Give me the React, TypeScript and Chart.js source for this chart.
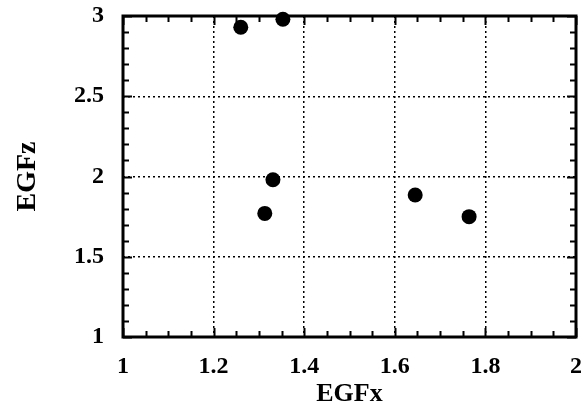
import React, { useEffect, useRef } from "react";
import { Chart, registerables } from "chart.js";

Chart.register(...registerables);

const xValues = [1.26, 1.353, 1.331, 1.313, 1.645, 1.764];
const yValues = [2.93, 2.98, 1.98, 1.77, 1.885, 1.75];
const xLabels = ["1", "1.2", "1.4", "1.6", "1.8", "2"];
const yLabels = ["1", "1.5", "2", "2.5", "3"];
const xTitle = "EGFx";
const yTitle = "EGFz";

const FONT = "'Liberation Serif', 'Times New Roman', serif";

const frameTicks = {
  id: "frameTicks",
  afterDraw(chart: any) {
    const { ctx, chartArea: a, scales } = chart;
    const xs = scales.x;
    const ys = scales.y;
    ctx.save();
    ctx.strokeStyle = "#000";
    ctx.lineWidth = 2;
    for (let i = 0; i <= 20; i++) {
      const v = 1 + i * 0.05;
      const px = Math.round(xs.getPixelForValue(v)) + 0.5;
      const major = i % 4 === 0;
      const len = major ? 9 : 6;
      ctx.beginPath();
      ctx.moveTo(px, a.bottom);
      ctx.lineTo(px, a.bottom - len);
      ctx.moveTo(px, a.top);
      ctx.lineTo(px, a.top + len);
      ctx.stroke();
    }
    for (let i = 0; i <= 20; i++) {
      const v = 1 + i * 0.1;
      const py = Math.round(ys.getPixelForValue(v)) + 0.5;
      const major = i % 5 === 0;
      const len = major ? 9 : 6;
      ctx.beginPath();
      ctx.moveTo(a.left, py);
      ctx.lineTo(a.left + len, py);
      ctx.moveTo(a.right, py);
      ctx.lineTo(a.right - len, py);
      ctx.stroke();
    }
    ctx.lineWidth = 3;
    ctx.strokeRect(a.left, a.top, a.right - a.left, a.bottom - a.top);
    ctx.restore();
  },
};

export default function App() {
  const ref = useRef<HTMLCanvasElement>(null);
  useEffect(() => {
    document.body.style.margin = "0";
    const data = xValues.map((x, i) => ({ x, y: yValues[i] }));
    const gridColor = (c: any) => {
      const v = c.tick ? c.tick.value : 0;
      return v === c.scale.min || v === c.scale.max ? "rgba(0,0,0,0)" : "#000";
    };
    const chart = new Chart(ref.current!, {
      type: "scatter",
      data: {
        datasets: [
          {
            data,
            backgroundColor: "#000",
            borderColor: "#000",
            borderWidth: 0,
            pointRadius: 7.5,
            clip: false as any,
          },
        ],
      },
      plugins: [frameTicks],
      options: {
        animation: false,
        responsive: false,
        layout: { padding: { top: 16, right: 10, left: 0, bottom: 0 } },
        plugins: { legend: { display: false }, tooltip: { enabled: false } },
        scales: {
          x: {
            type: "linear",
            min: 1,
            max: 2,
            afterFit: (s: any) => {
              s.height = 73;
              s.paddingLeft = 0;
              s.paddingRight = 0;
            },
            ticks: {
              stepSize: 0.2,
              padding: 15,
              color: "#000",
              font: { family: FONT, size: 24, weight: "bold" },
              callback: (v: any) => {
                const i = Math.round((Number(v) - 1) / 0.2);
                return xLabels[i] ?? "";
              },
              maxRotation: 0,
            },
            grid: {
              color: gridColor,
              lineWidth: 1.5,
              drawTicks: false,
            },
            border: { display: false, dash: [2, 3] },
            title: {
              display: true,
              text: xTitle,
              color: "#000",
              font: { family: FONT, size: 26, weight: "bold" },
              padding: { top: 0, bottom: 0 },
            },
          },
          y: {
            type: "linear",
            min: 1,
            max: 3,
            afterFit: (s: any) => {
              s.width = 123;
              s.paddingTop = 0;
              s.paddingBottom = 0;
            },
            ticks: {
              stepSize: 0.5,
              padding: 19,
              color: "#000",
              font: { family: FONT, size: 24, weight: "bold" },
              callback: (v: any) => {
                const i = Math.round((Number(v) - 1) / 0.5);
                return yLabels[i] ?? "";
              },
            },
            grid: {
              color: gridColor,
              lineWidth: 1.5,
              drawTicks: false,
            },
            border: { display: false, dash: [2, 3] },
            title: {
              display: true,
              text: yTitle,
              color: "#000",
              font: { family: FONT, size: 28, weight: "bold" },
              padding: { top: 11, bottom: 0 },
            },
          },
        },
      },
    });
    return () => chart.destroy();
  }, []);
  return <canvas ref={ref} width={586} height={410} style={{ display: "block", width: 586, height: 410 }} />;
}
